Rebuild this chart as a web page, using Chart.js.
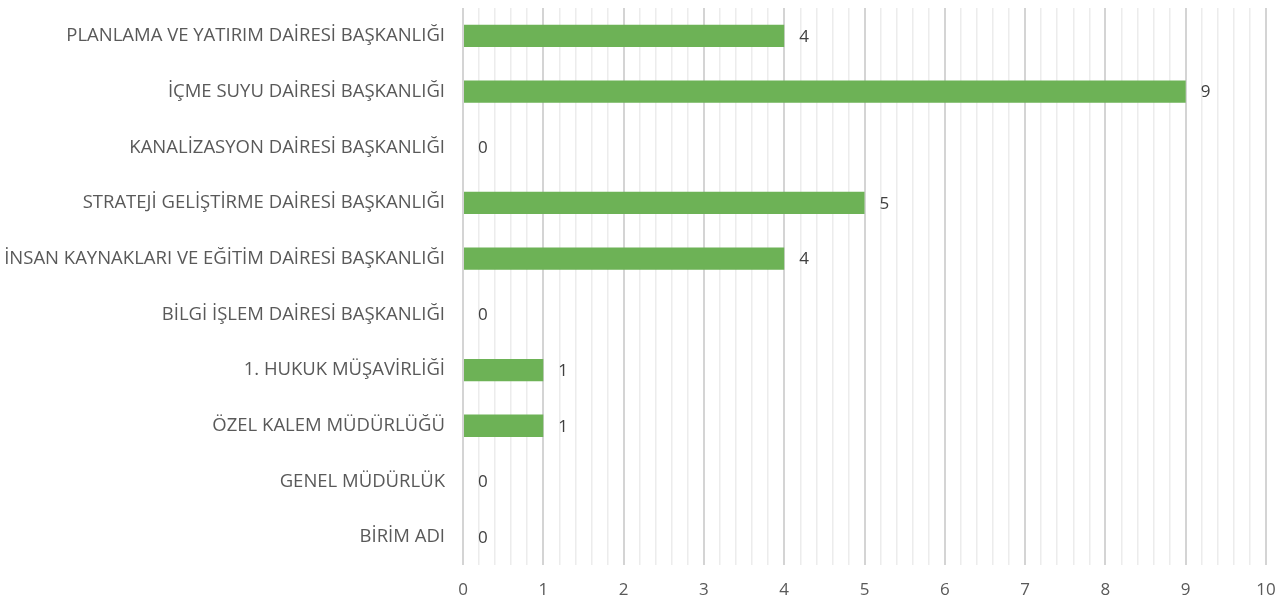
<!DOCTYPE html>
<html>
<head>
<meta charset="utf-8">
<script src="https://cdn.jsdelivr.net/npm/chart.js@4/dist/chart.umd.min.js"></script>
<style>
  html, body { margin: 0; padding: 0; background: #fff; }
  #wrap { width: 1288px; height: 604px; }
</style>
</head>
<body>
<div id="wrap"><canvas id="myChart" width="1288" height="604"></canvas></div>
<script>
// categories, top to bottom
const birimler = [
  'PLANLAMA VE YATIRIM DAİRESİ BAŞKANLIĞI',
  'İÇME SUYU DAİRESİ BAŞKANLIĞI',
  'KANALİZASYON DAİRESİ BAŞKANLIĞI',
  'STRATEJİ GELİŞTİRME DAİRESİ BAŞKANLIĞI',
  'İNSAN KAYNAKLARI VE EĞİTİM DAİRESİ BAŞKANLIĞI',
  'BİLGİ İŞLEM DAİRESİ BAŞKANLIĞI',
  '1. HUKUK MÜŞAVİRLİĞİ',
  'ÖZEL KALEM MÜDÜRLÜĞÜ',
  'GENEL MÜDÜRLÜK',
  'BİRİM ADI'
];
const sayilar = [4, 9, 0, 5, 4, 0, 1, 1, 0, 0];
const eksenMin = 0;
const eksenMax = 10;

const isMajor = v => Math.abs(v - Math.round(v)) < 1e-6;

// value labels at the end of each bar
const barLabels = {
  id: 'barLabels',
  afterDatasetsDraw(chart) {
    const ctx = chart.ctx;
    const meta = chart.getDatasetMeta(0);
    ctx.save();
    ctx.font = '17px "Open Sans"';
    ctx.fillStyle = '#404040';
    ctx.textAlign = 'left';
    ctx.textBaseline = 'middle';
    meta.data.forEach((bar, i) => {
      ctx.fillText(String(sayilar[i]), bar.x + 15, bar.y + 1);
    });
    ctx.restore();
  }
};

const canva = document.getElementById('myChart');
const ctx = canva.getContext('2d');
const chart = new Chart(ctx, {
  type: 'bar',
  data: {
    labels: birimler,
    datasets: [{
      data: sayilar,
      backgroundColor: '#6DB256',
      borderWidth: 0,
      categoryPercentage: 1,
      barPercentage: 0.4
    }]
  },
  options: {
    indexAxis: 'y',
    responsive: false,
    animation: false,
    layout: { padding: { top: 8, right: 22, bottom: 0, left: 0 } },
    plugins: {
      legend: { display: false },
      tooltip: { enabled: false }
    },
    scales: {
      x: {
        min: eksenMin,
        max: eksenMax,
        border: { display: false },
        grid: {
          drawTicks: false,
          color: c => isMajor(c.tick.value) ? '#d4d4d4' : '#ececec',
          lineWidth: c => isMajor(c.tick.value) ? 2 : 1.5
        },
        ticks: {
          stepSize: 0.2,
          autoSkip: false,
          maxTicksLimit: 100,
          maxRotation: 0,
          padding: 15,
          color: '#595959',
          font: { family: 'Open Sans', size: 17 },
          callback: v => isMajor(v) ? String(Math.round(v)) : ''
        },
        afterFit: s => {
          s.height = 39;
          s.paddingLeft = 0;
          s.paddingRight = 0;
        }
      },
      y: {
        border: { display: false },
        grid: { display: false, drawTicks: false },
        ticks: {
          padding: 18,
          color: '#595959',
          font: { family: 'Open Sans', size: 18.5 }
        },
        afterFit: s => {
          s.width = 463;
          s.paddingTop = 0;
          s.paddingBottom = 0;
        }
      }
    }
  },
  plugins: [barLabels]
});
</script>
</body>
</html>
